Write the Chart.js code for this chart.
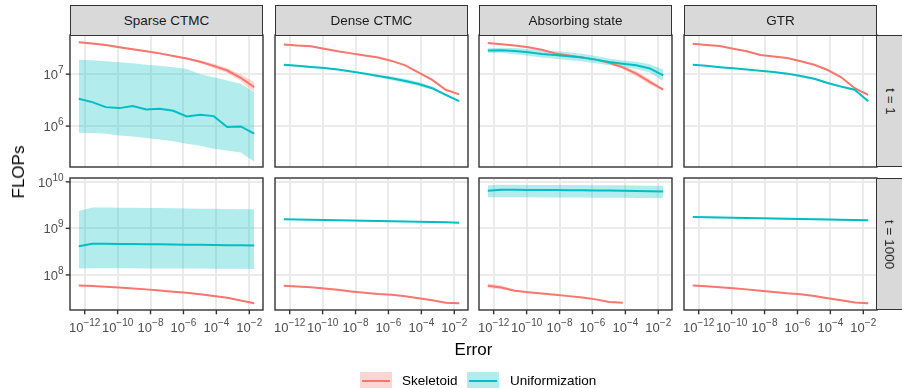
<!DOCTYPE html>
<html>
<head>
<meta charset="utf-8">
<script src="https://cdn.jsdelivr.net/npm/chart.js@4.4.1/dist/chart.umd.min.js"></script>
<style>
body { margin: 0; background: #fff; font-family: "Liberation Sans", Arial, sans-serif; }
#wrap { position: relative; width: 902px; height: 388px; overflow: hidden; background: #fff; }
#wrap canvas { position: absolute; left: 0; top: 0; }
.strip { position: absolute; background: #d9d9d9; border: 1.4px solid #333; box-sizing: border-box;
         display: flex; align-items: center; justify-content: center; font-size: 13.5px; color: #1a1a1a; }
.strip.side span { transform: rotate(90deg); white-space: nowrap; }
.title { position: absolute; font-size: 17px; color: #000; white-space: nowrap; }
.key { position: absolute; width: 32px; height: 18px; }
.key i { position: absolute; left: 2px; right: 2px; top: 8px; height: 2px; }
.ktext { position: absolute; font-size: 13.5px; color: #000; }
</style>
</head>
<body>
<div id="wrap"></div>
<script>
// x: error (log10), one shared grid of tolerances
const errorLog10 = [-12.36, -11.54, -10.72, -9.90, -9.08, -8.26, -7.44, -6.62, -5.80, -4.98, -4.16, -3.34, -2.52, -1.70];

const methods = ['Sparse CTMC', 'Dense CTMC', 'Absorbing state', 'GTR'];
const times = ['t = 1', 't = 1000'];
const seriesNames = ['Skeletoid', 'Uniformization'];

const xTickExps = [-12, -10, -8, -6, -4, -2];
const yTickExpsT1 = [6, 7];
const yTickExpsT1000 = [8, 9, 10];

// FLOPs, log10
// --- t = 1 ---
const sparseT1Skel   = [7.615, 7.59, 7.56, 7.52, 7.48, 7.44, 7.40, 7.35, 7.30, 7.24, 7.16, 7.07, 6.93, 6.75];
const sparseT1SkelLo = [7.60, 7.575, 7.545, 7.505, 7.465, 7.425, 7.385, 7.335, 7.28, 7.215, 7.12, 7.02, 6.87, 6.65];
const sparseT1SkelHi = [7.63, 7.605, 7.575, 7.535, 7.495, 7.455, 7.415, 7.365, 7.32, 7.265, 7.20, 7.12, 6.99, 6.85];
const sparseT1Unif   = [6.527, 6.462, 6.365, 6.346, 6.385, 6.321, 6.335, 6.296, 6.187, 6.219, 6.192, 5.981, 5.994, 5.854];
const sparseT1UnifLo = [5.873, 5.865, 5.85, 5.82, 5.80, 5.77, 5.74, 5.706, 5.66, 5.62, 5.565, 5.53, 5.49, 5.32];
const sparseT1UnifHi = [7.277, 7.27, 7.25, 7.23, 7.21, 7.18, 7.16, 7.135, 7.10, 7.00, 6.94, 6.88, 6.815, 6.65];

const denseT1Skel   = [7.571, 7.55, 7.538, 7.49, 7.44, 7.40, 7.36, 7.32, 7.255, 7.17, 7.03, 6.89, 6.70, 6.61];
const denseT1SkelLo = [7.561, 7.54, 7.528, 7.48, 7.43, 7.39, 7.35, 7.31, 7.245, 7.16, 7.02, 6.88, 6.69, 6.60];
const denseT1SkelHi = [7.581, 7.56, 7.548, 7.50, 7.45, 7.41, 7.37, 7.33, 7.265, 7.18, 7.04, 6.90, 6.71, 6.62];
const denseT1Unif   = [7.18, 7.16, 7.14, 7.12, 7.09, 7.05, 7.01, 6.965, 6.92, 6.87, 6.81, 6.73, 6.60, 6.48];
const denseT1UnifLo = [7.165, 7.145, 7.125, 7.105, 7.075, 7.035, 6.99, 6.94, 6.885, 6.83, 6.77, 6.70, 6.58, 6.465];
const denseT1UnifHi = [7.195, 7.175, 7.155, 7.135, 7.105, 7.065, 7.03, 6.99, 6.955, 6.91, 6.85, 6.76, 6.62, 6.495];

const absorbT1Skel   = [7.60, 7.575, 7.55, 7.52, 7.47, 7.40, 7.36, 7.32, 7.28, 7.22, 7.13, 7.01, 6.85, 6.70];
const absorbT1SkelLo = [7.59, 7.565, 7.54, 7.51, 7.46, 7.39, 7.35, 7.31, 7.27, 7.20, 7.10, 6.96, 6.80, 6.68];
const absorbT1SkelHi = [7.61, 7.585, 7.56, 7.53, 7.48, 7.41, 7.37, 7.33, 7.29, 7.24, 7.16, 7.06, 6.90, 6.72];
const absorbT1Unif   = [7.456, 7.46, 7.445, 7.42, 7.39, 7.37, 7.345, 7.32, 7.28, 7.235, 7.20, 7.17, 7.11, 6.975];
const absorbT1UnifLo = [7.41, 7.41, 7.385, 7.355, 7.32, 7.295, 7.27, 7.245, 7.21, 7.17, 7.135, 7.10, 7.03, 6.87];
const absorbT1UnifHi = [7.50, 7.51, 7.505, 7.485, 7.46, 7.445, 7.42, 7.395, 7.35, 7.30, 7.265, 7.24, 7.19, 7.09];

const gtrT1Skel   = [7.585, 7.56, 7.54, 7.49, 7.44, 7.37, 7.34, 7.31, 7.25, 7.18, 7.08, 6.94, 6.73, 6.60];
const gtrT1SkelLo = [7.575, 7.55, 7.53, 7.48, 7.43, 7.36, 7.33, 7.30, 7.24, 7.17, 7.07, 6.93, 6.72, 6.59];
const gtrT1SkelHi = [7.595, 7.57, 7.55, 7.50, 7.45, 7.38, 7.35, 7.32, 7.26, 7.19, 7.09, 6.95, 6.74, 6.61];
const gtrT1Unif   = [7.18, 7.16, 7.135, 7.115, 7.09, 7.065, 7.04, 7.01, 6.965, 6.91, 6.83, 6.76, 6.70, 6.48];
const gtrT1UnifLo = [7.17, 7.15, 7.125, 7.105, 7.08, 7.055, 7.03, 6.995, 6.945, 6.89, 6.81, 6.74, 6.68, 6.47];
const gtrT1UnifHi = [7.19, 7.17, 7.145, 7.125, 7.10, 7.075, 7.05, 7.025, 6.985, 6.93, 6.85, 6.78, 6.72, 6.49];

// --- t = 1000 ---
const sparseT1000Skel   = [7.773, 7.76, 7.745, 7.73, 7.71, 7.69, 7.665, 7.64, 7.615, 7.585, 7.55, 7.51, 7.45, 7.39];
const sparseT1000SkelLo = [7.763, 7.75, 7.735, 7.72, 7.70, 7.68, 7.655, 7.63, 7.605, 7.575, 7.54, 7.50, 7.44, 7.38];
const sparseT1000SkelHi = [7.783, 7.77, 7.755, 7.74, 7.72, 7.70, 7.675, 7.65, 7.625, 7.595, 7.56, 7.52, 7.46, 7.40];
const sparseT1000Unif   = [8.617, 8.67, 8.668, 8.666, 8.664, 8.66, 8.657, 8.654, 8.65, 8.647, 8.643, 8.64, 8.636, 8.632];
const sparseT1000UnifLo = [8.14, 8.145, 8.145, 8.143, 8.142, 8.14, 8.14, 8.138, 8.137, 8.136, 8.135, 8.134, 8.132, 8.13];
const sparseT1000UnifHi = [9.375, 9.448, 9.446, 9.444, 9.442, 9.44, 9.436, 9.432, 9.428, 9.424, 9.42, 9.416, 9.413, 9.41];

const denseT1000Skel   = [7.766, 7.75, 7.738, 7.71, 7.68, 7.645, 7.615, 7.59, 7.575, 7.54, 7.50, 7.455, 7.405, 7.39];
const denseT1000SkelLo = [7.756, 7.74, 7.728, 7.70, 7.67, 7.635, 7.605, 7.58, 7.565, 7.53, 7.49, 7.445, 7.395, 7.38];
const denseT1000SkelHi = [7.776, 7.76, 7.748, 7.72, 7.69, 7.655, 7.625, 7.60, 7.585, 7.55, 7.51, 7.465, 7.415, 7.40];
const denseT1000Unif   = [9.195, 9.19, 9.185, 9.18, 9.175, 9.17, 9.165, 9.16, 9.155, 9.15, 9.145, 9.138, 9.13, 9.123];
const denseT1000UnifLo = [9.185, 9.18, 9.175, 9.17, 9.165, 9.16, 9.155, 9.15, 9.145, 9.14, 9.135, 9.128, 9.12, 9.113];
const denseT1000UnifHi = [9.205, 9.20, 9.195, 9.19, 9.185, 9.18, 9.175, 9.17, 9.165, 9.16, 9.155, 9.148, 9.14, 9.133];

const absorbT1000Skel   = [7.766, 7.73, 7.66, 7.63, 7.60, 7.575, 7.545, 7.515, 7.475, 7.42, 7.405, null, null, null];
const absorbT1000SkelLo = [7.72, 7.69, 7.65, 7.62, 7.59, 7.565, 7.535, 7.505, 7.465, 7.41, 7.395, null, null, null];
const absorbT1000SkelHi = [7.815, 7.78, 7.675, 7.64, 7.61, 7.585, 7.555, 7.525, 7.485, 7.43, 7.415, null, null, null];
const absorbT1000Unif   = [9.807, 9.83, 9.828, 9.826, 9.824, 9.822, 9.82, 9.817, 9.814, 9.811, 9.808, 9.804, 9.80, 9.794];
const absorbT1000UnifLo = [9.67, 9.668, 9.667, 9.666, 9.665, 9.664, 9.663, 9.662, 9.66, 9.658, 9.656, 9.654, 9.652, 9.65];
const absorbT1000UnifHi = [9.925, 9.935, 9.935, 9.934, 9.933, 9.932, 9.931, 9.93, 9.928, 9.926, 9.924, 9.921, 9.918, 9.916];

const gtrT1000Skel   = [7.773, 7.755, 7.735, 7.716, 7.69, 7.66, 7.635, 7.605, 7.585, 7.55, 7.50, 7.455, 7.41, 7.39];
const gtrT1000SkelLo = [7.763, 7.745, 7.725, 7.706, 7.68, 7.65, 7.625, 7.595, 7.575, 7.54, 7.49, 7.445, 7.40, 7.38];
const gtrT1000SkelHi = [7.783, 7.765, 7.745, 7.726, 7.70, 7.67, 7.645, 7.615, 7.595, 7.56, 7.51, 7.465, 7.42, 7.40];
const gtrT1000Unif   = [9.245, 9.24, 9.235, 9.23, 9.225, 9.22, 9.214, 9.208, 9.202, 9.196, 9.19, 9.184, 9.178, 9.173];
const gtrT1000UnifLo = [9.228, 9.225, 9.22, 9.215, 9.21, 9.205, 9.199, 9.193, 9.187, 9.181, 9.175, 9.169, 9.163, 9.158];
const gtrT1000UnifHi = [9.262, 9.255, 9.25, 9.245, 9.24, 9.235, 9.229, 9.223, 9.217, 9.211, 9.205, 9.199, 9.193, 9.188];

const panelData = [
  [ // t = 1
    [sparseT1Skel, sparseT1SkelLo, sparseT1SkelHi, sparseT1Unif, sparseT1UnifLo, sparseT1UnifHi],
    [denseT1Skel, denseT1SkelLo, denseT1SkelHi, denseT1Unif, denseT1UnifLo, denseT1UnifHi],
    [absorbT1Skel, absorbT1SkelLo, absorbT1SkelHi, absorbT1Unif, absorbT1UnifLo, absorbT1UnifHi],
    [gtrT1Skel, gtrT1SkelLo, gtrT1SkelHi, gtrT1Unif, gtrT1UnifLo, gtrT1UnifHi]
  ],
  [ // t = 1000
    [sparseT1000Skel, sparseT1000SkelLo, sparseT1000SkelHi, sparseT1000Unif, sparseT1000UnifLo, sparseT1000UnifHi],
    [denseT1000Skel, denseT1000SkelLo, denseT1000SkelHi, denseT1000Unif, denseT1000UnifLo, denseT1000UnifHi],
    [absorbT1000Skel, absorbT1000SkelLo, absorbT1000SkelHi, absorbT1000Unif, absorbT1000UnifLo, absorbT1000UnifHi],
    [gtrT1000Skel, gtrT1000SkelLo, gtrT1000SkelHi, gtrT1000Unif, gtrT1000UnifLo, gtrT1000UnifHi]
  ]
];

// axis limits (log10), free y per row like facet_grid(scales = "free_y")
const xLimLog10 = [-12.893, -1.167];
const yLimLog10 = [[5.212, 7.754], [7.247, 10.082]];

const W = 902, H = 388;
const colLeft = [70, 275, 479, 684];
const rowTop = [35, 178];
const panelW = 193, panelH = 132;

const RED = '#F8766D', CYAN = '#00BFC4';
const RED_FILL = 'rgba(248,118,109,0.3)', CYAN_FILL = 'rgba(0,191,196,0.3)';
const FONT = '"Liberation Sans", Arial, sans-serif';

const wrap = document.getElementById('wrap');

function pts(arr) {
  return arr.map((v, i) => ({ x: 10 ** errorLog10[i], y: v === null ? null : 10 ** v }));
}

function drawPow(ctx, exp, x, y, align) {
  const base = '10';
  const sup = exp < 0 ? '\u2212' + (-exp) : String(exp);
  ctx.font = '13px ' + FONT;
  const bw = ctx.measureText(base).width;
  ctx.font = '10px ' + FONT;
  const sw = ctx.measureText(sup).width;
  const x0 = align === 'center' ? x - (bw + sw) / 2 : x - (bw + sw);
  ctx.fillStyle = '#4D4D4D';
  ctx.textAlign = 'left';
  ctx.textBaseline = 'alphabetic';
  ctx.font = '13px ' + FONT;
  ctx.fillText(base, x0, y);
  ctx.font = '10px ' + FONT;
  ctx.fillText(sup, x0 + bw, y - 6);
}

// border, ticks and tick labels in ggplot style
const panelDecor = {
  id: 'panelDecor',
  afterDraw(chart, args, opts) {
    const { ctx, chartArea: a } = chart;
    ctx.save();
    ctx.strokeStyle = '#333333';
    ctx.lineWidth = 1.4;
    ctx.strokeRect(a.left, a.top, a.right - a.left, a.bottom - a.top);
    if (opts.showY) {
      opts.yTicks.forEach(e => {
        const y = chart.scales.y.getPixelForValue(10 ** e);
        ctx.beginPath();
        ctx.moveTo(a.left - 4.3, y);
        ctx.lineTo(a.left, y);
        ctx.stroke();
        drawPow(ctx, e, a.left - 6.5, y + 4.8, 'right');
      });
    }
    if (opts.showX) {
      opts.xTicks.forEach(e => {
        const x = chart.scales.x.getPixelForValue(10 ** e);
        ctx.beginPath();
        ctx.moveTo(x, a.bottom);
        ctx.lineTo(x, a.bottom + 4.3);
        ctx.stroke();
        drawPow(ctx, e, x, a.bottom + 21.5, 'center');
      });
    }
    ctx.restore();
  }
};

function makePanel(r, c) {
  const cv = document.createElement('canvas');
  cv.width = W; cv.height = H;
  wrap.appendChild(cv);
  const [skel, skelLo, skelHi, unif, unifLo, unifHi] = panelData[r][c];
  const yTicks = r === 0 ? yTickExpsT1 : yTickExpsT1000;
  const band = (data, color, order, fill) => ({
    data: pts(data), borderColor: 'rgba(0,0,0,0)', backgroundColor: color,
    pointRadius: 0, borderWidth: 0, fill: fill, order: order
  });
  const line = (data, color, order) => ({
    data: pts(data), borderColor: color, borderWidth: 2, pointRadius: 0,
    fill: false, order: order, spanGaps: false
  });
  new Chart(cv, {
    type: 'line',
    data: {
      datasets: [
        band(skelLo, RED_FILL, 3, false),
        band(skelHi, RED_FILL, 3, '-1'),
        band(unifLo, CYAN_FILL, 2, false),
        band(unifHi, CYAN_FILL, 2, '-1'),
        line(skel, RED, 1),
        line(unif, CYAN, 0)
      ]
    },
    options: {
      responsive: false,
      animation: false,
      devicePixelRatio: 1,
      layout: {
        padding: {
          left: colLeft[c], top: rowTop[r],
          right: W - colLeft[c] - panelW, bottom: H - rowTop[r] - panelH
        }
      },
      scales: {
        x: {
          type: 'logarithmic',
          min: 10 ** xLimLog10[0], max: 10 ** xLimLog10[1],
          afterBuildTicks: s => { s.ticks = xTickExps.map(e => ({ value: 10 ** e })); },
          ticks: { display: false },
          grid: { color: '#EBEBEB', lineWidth: 2, drawTicks: false },
          border: { display: false }
        },
        y: {
          type: 'logarithmic',
          min: 10 ** yLimLog10[r][0], max: 10 ** yLimLog10[r][1],
          afterBuildTicks: s => { s.ticks = yTicks.map(e => ({ value: 10 ** e })); },
          ticks: { display: false },
          grid: { color: '#EBEBEB', lineWidth: 2, drawTicks: false },
          border: { display: false }
        }
      },
      plugins: {
        legend: { display: false },
        tooltip: { enabled: false },
        panelDecor: { showY: c === 0, showX: r === 1, yTicks: yTicks, xTicks: xTickExps }
      }
    },
    plugins: [panelDecor]
  });
}

for (let r = 0; r < 2; r++) {
  for (let c = 0; c < 4; c++) makePanel(r, c);
}

function addDiv(cls, style, html) {
  const d = document.createElement('div');
  d.className = cls;
  Object.assign(d.style, style);
  d.innerHTML = html;
  wrap.appendChild(d);
  return d;
}

// top strips
methods.forEach((m, c) => {
  addDiv('strip', { left: colLeft[c] + 'px', top: '5px', width: panelW + 'px', height: '31px' }, m);
});
// right strips
times.forEach((t, r) => {
  addDiv('strip side', { left: (colLeft[3] + panelW - 1) + 'px', top: rowTop[r] + 'px', width: '28px', height: panelH + 'px' },
    '<span>' + t + '</span>');
});

// axis titles
addDiv('title', { left: '19px', top: '172px', transform: 'translate(-50%,-50%) rotate(-90deg)' }, 'FLOPs');
addDiv('title', { left: '473.5px', top: '350px', transform: 'translate(-50%,-50%)' }, 'Error');

// legend
const legendKeys = [{ x: 360, tx: 402, line: RED, fill: RED_FILL }, { x: 467, tx: 510, line: CYAN, fill: CYAN_FILL }];
seriesNames.forEach((s, i) => {
  const k = legendKeys[i];
  addDiv('key', { left: k.x + 'px', top: '372px', background: k.fill }, '<i style="background:' + k.line + '"></i>');
  addDiv('ktext', { left: k.tx + 'px', top: '373px' }, s);
});
</script>
</body>
</html>
